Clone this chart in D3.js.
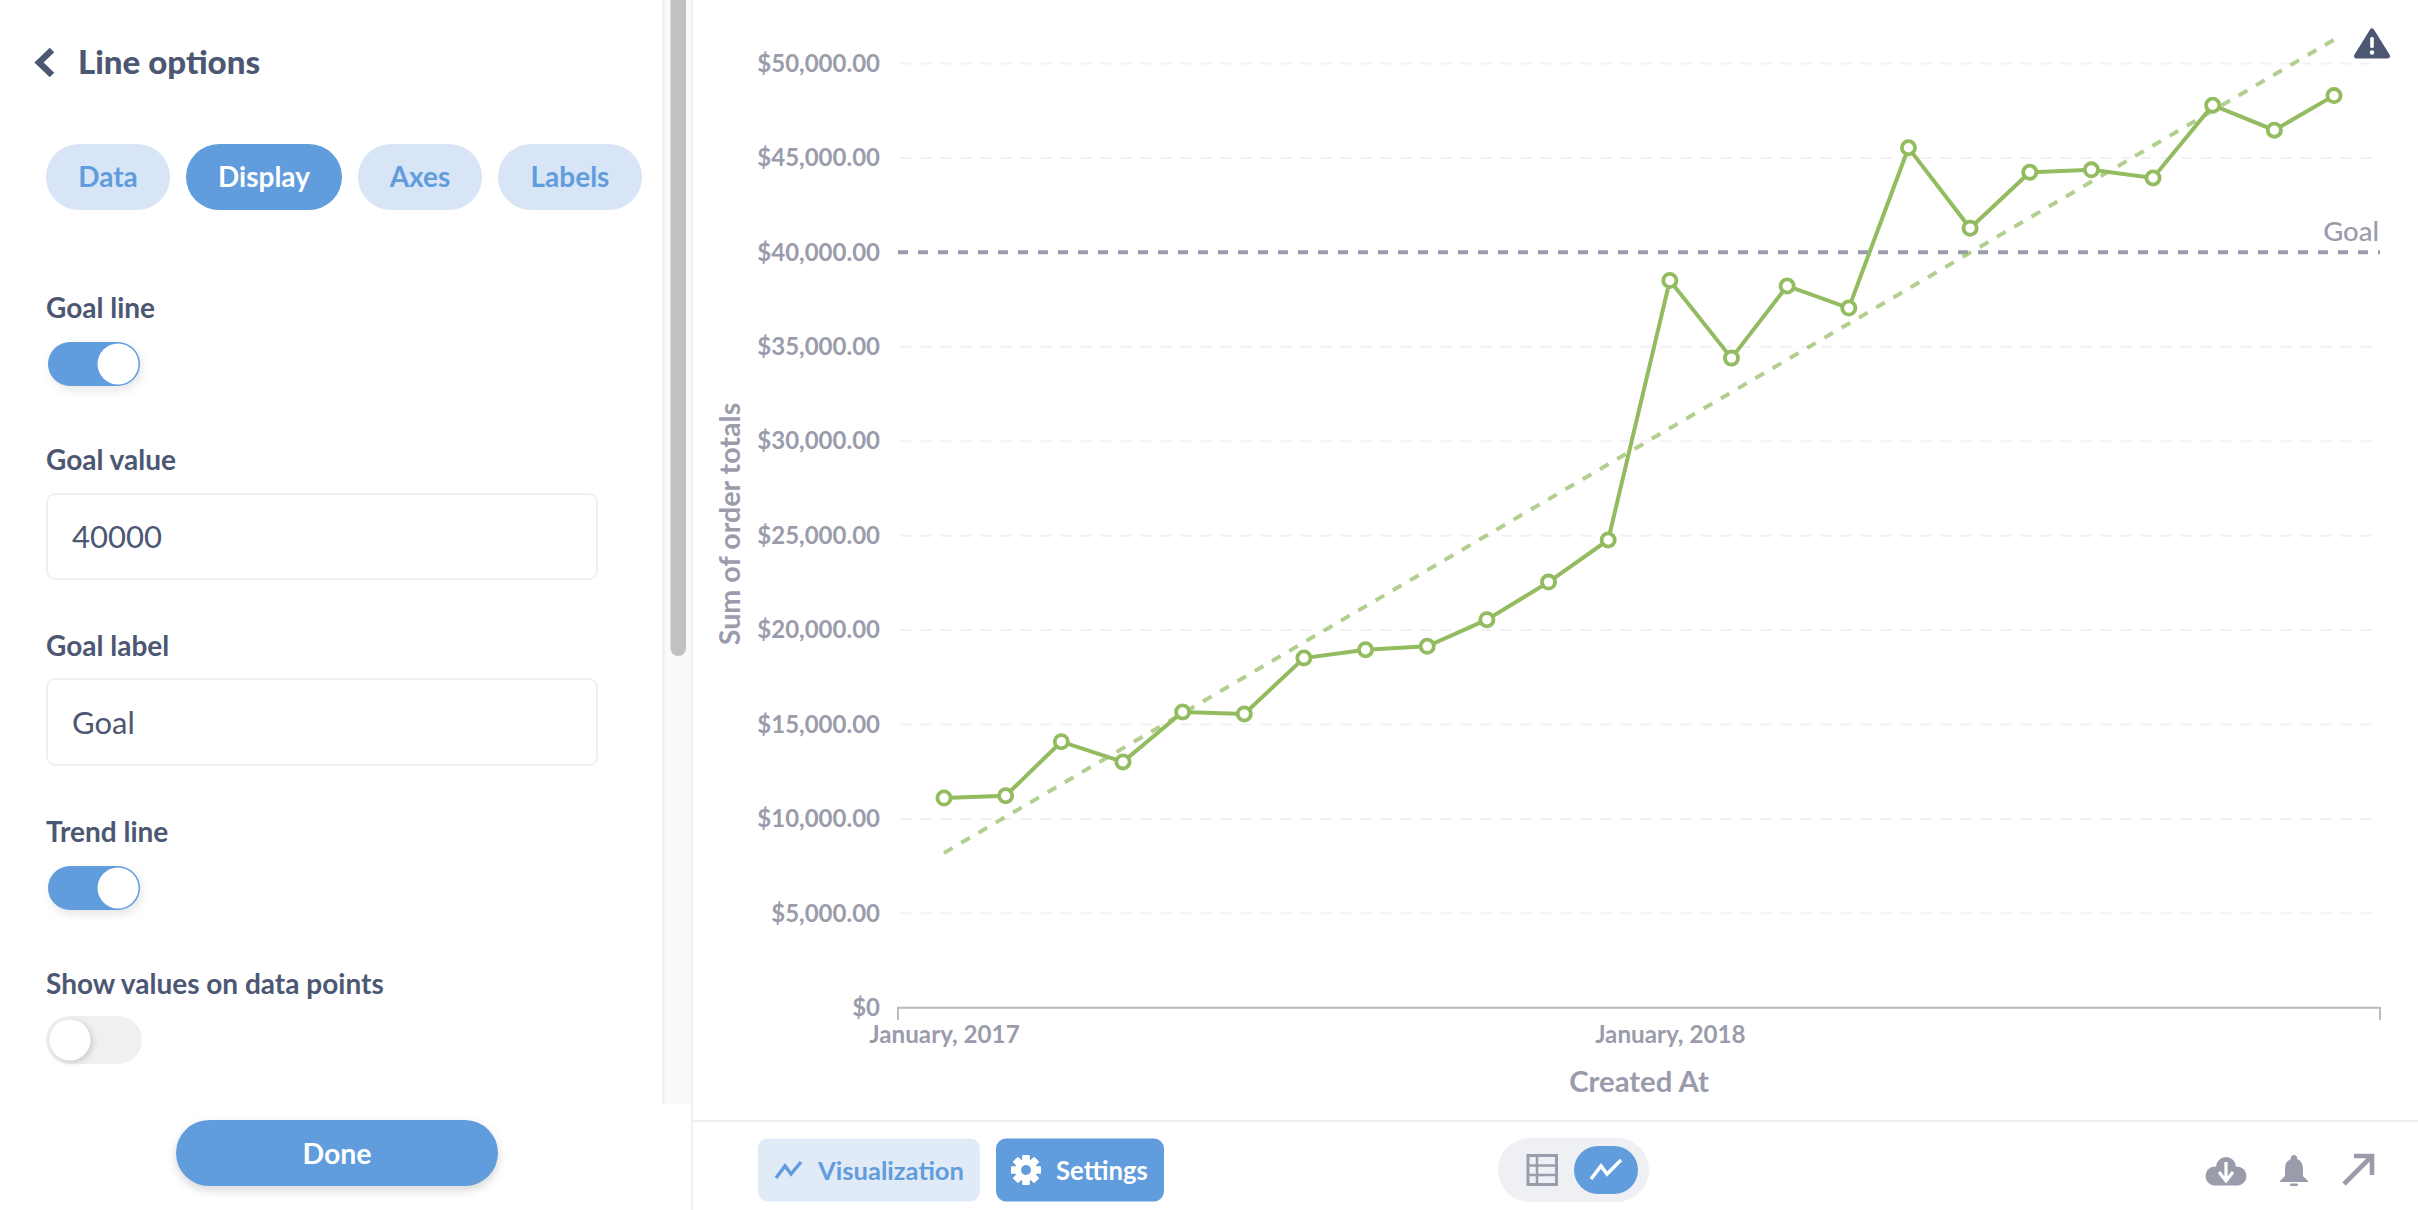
<!DOCTYPE html>
<html><head><meta charset="utf-8">
<script src="https://cdn.jsdelivr.net/npm/d3@7"></script>
<style>
html,body{margin:0;padding:0;background:#fff;overflow:hidden}
svg{display:block}
text{font-family:Lato,sans-serif}
</style></head><body>
<svg id="c" width="2418" height="1210"></svg>
<script>
// ---- data ----
const months = ["2017-01-01","2017-02-01","2017-03-01","2017-04-01","2017-05-01","2017-06-01","2017-07-01","2017-08-01","2017-09-01","2017-10-01","2017-11-01","2017-12-01","2018-01-01","2018-02-01","2018-03-01","2018-04-01","2018-05-01","2018-06-01","2018-07-01","2018-08-01","2018-09-01","2018-10-01","2018-11-01","2018-12-01"];
const orderTotals = [11106,11230,14090,13020,15660,15560,18520,18960,19140,20550,22540,24770,38510,34400,38220,37050,45540,41280,44240,44370,43940,47790,46470,48300];
const trendMonths = ["2017-01-01","2018-12-01"];
const trendValues = [8200,51260];
const goalValue = 40000;
const goalLabel = "Goal";
const yTicks = [0,5000,10000,15000,20000,25000,30000,35000,40000,45000,50000];
const xTicks = ["2017-01-01","2018-01-01"];
const xTickLabels = ["January, 2017","January, 2018"];
const yTitle = "Sum of order totals";
const xTitle = "Created At";
const tabNames = ["Data","Display","Axes","Labels"];

// ---- layout & style ----
const INK="#4c5773", MUTED="#9a9cab", BLUE="#619cdc", PALE="#d8e5f6", GREEN="#93bb5f";
const svg=d3.select("#c");
const parse=d3.utcParse("%Y-%m-%d");
const x=d3.scaleUtc().domain([parse(months[0]),parse(months[months.length-1])]).range([944,2334]);
const y=d3.scaleLinear().domain([0,50000]).range([1007.8,63.5]);
const plotL=898, plotR=2380;

function label(sel,t,px,py,size,weight,fill,anchor){
  return sel.append("text").text(t).attr("x",px).attr("y",py)
    .attr("font-size",size).attr("font-weight",weight).attr("fill",fill)
    .attr("text-anchor",anchor||"start");
}

// ---- sidebar ----
const side=svg.append("g");
side.append("rect").attr("x",663).attr("y",0).attr("width",28).attr("height",1104).attr("fill","#fafafa");
side.append("line").attr("x1",663.5).attr("x2",663.5).attr("y1",0).attr("y2",1104).attr("stroke","#ececec").attr("stroke-width",2);
side.append("rect").attr("x",670.5).attr("y",-10).attr("width",15.5).attr("height",666).attr("rx",7.5).attr("fill","#c1c1c1");
side.append("path").attr("d","M52,50L39,62.5L52,75").attr("fill","none").attr("stroke",INK).attr("stroke-width",6.5);
label(side,"Line options",78,74,33.1,900,INK);

const tabBoxes=[[46,124],[186,156],[358,124],[498,144]];
tabNames.forEach((t,i)=>{
  const [tx,tw]=tabBoxes[i], on=t==="Display";
  side.append("rect").attr("x",tx).attr("y",144).attr("width",tw).attr("height",66).attr("rx",33)
    .attr("fill",on?BLUE:PALE);
  label(side,t,tx+tw/2,187,28,700,on?"#fff":BLUE,"middle");
});

function toggle(cy,on){
  const g=side.append("g");
  if(on){
    g.append("rect").attr("x",48).attr("y",cy-22).attr("width",92).attr("height",44).attr("rx",22).attr("fill",BLUE)
      .style("filter","drop-shadow(2px 4px 5px rgba(0,0,0,.10))");
    g.append("circle").attr("cx",118).attr("cy",cy).attr("r",20.5).attr("fill","#fff");
  }else{
    g.append("rect").attr("x",46).attr("y",cy-24).attr("width",96).attr("height",48).attr("rx",24).attr("fill","#eef0f2");
    g.append("circle").attr("cx",70).attr("cy",cy).attr("r",20.5).attr("fill","#fff")
      .style("filter","drop-shadow(2px 2px 3px rgba(0,0,0,.16))");
  }
}
function input(y0,y1,t,base){
  side.append("rect").attr("x",47).attr("y",y0).attr("width",550).attr("height",y1-y0).attr("rx",8)
    .attr("fill","#fff").attr("stroke","#f0f0f0").attr("stroke-width",2);
  label(side,t,72,base,31,400,INK);
}
label(side,"Goal line",46,318,28,700,INK);   toggle(364,true);
label(side,"Goal value",46,470,28,700,INK);  input(494,579,"40000",548);
label(side,"Goal label",46,656,28,700,INK);  input(679,765,goalLabel,733.5);
label(side,"Trend line",46,842,28,700,INK);  toggle(888,true);
label(side,"Show values on data points",46,994,28,700,INK); toggle(1040,false);

side.append("rect").attr("x",176).attr("y",1120).attr("width",322).attr("height",66).attr("rx",33)
  .attr("fill",BLUE).style("filter","drop-shadow(0 4px 5px rgba(0,0,0,.16))");
label(side,"Done",337,1164,28.5,700,"#fff","middle");

// ---- panel frame ----
svg.append("rect").attr("x",691).attr("y",0).attr("width",2).attr("height",1210).attr("fill","#f0f0f0");
svg.append("rect").attr("x",693).attr("y",1120).attr("width",1725).attr("height",2).attr("fill","#eeeeee");

// ---- chart ----
const chart=svg.append("g");
chart.append("g").selectAll("line").data(yTicks.filter(v=>v!==0&&v!==goalValue)).join("line")
  .attr("x1",901).attr("x2",2372).attr("y1",d=>y(d)).attr("y2",d=>y(d))
  .attr("stroke","#f1f1f3").attr("stroke-width",2).attr("stroke-dasharray","10 10");

const yAxis=d3.axisLeft(y).tickValues(yTicks).tickSize(0).tickPadding(0)
  .tickFormat(v=>v===0?"$0":d3.format("$,.2f")(v));
const ya=chart.append("g").attr("transform","translate(880,0)").call(yAxis);
ya.select(".domain").remove();
ya.selectAll("text").attr("font-family","Lato,sans-serif").attr("font-size",24).attr("font-weight",700).attr("fill",MUTED);

const xAxis=d3.axisBottom(x).tickValues(xTicks.map(parse)).tickSize(0).tickPadding(0)
  .tickFormat((d,i)=>xTickLabels[i]);
const xa=chart.append("g").attr("transform","translate(0,1026)").call(xAxis);
xa.select(".domain").remove();
xa.selectAll("text").attr("font-family","Lato,sans-serif").attr("font-size",24.2).attr("font-weight",700).attr("fill",MUTED);

chart.append("path").attr("d",`M${plotL},1020V${y(0)}H${plotR}V1020`).attr("fill","none").attr("stroke","#b9bbc2").attr("stroke-width",2);

label(chart,yTitle,0,0,28.7,700,MUTED,"middle").attr("transform","translate(740,524) rotate(-90)");
label(chart,xTitle,1639,1092,29.3,700,MUTED,"middle");

// goal
chart.append("line").attr("x1",plotL).attr("x2",plotR).attr("y1",y(goalValue)).attr("y2",y(goalValue))
  .attr("stroke",MUTED).attr("stroke-width",4).attr("stroke-dasharray","10 10");
label(chart,goalLabel,plotR-1,241,27.5,500,MUTED,"end");

// trend
const line=d3.line().x(d=>x(d.date)).y(d=>y(d.value));
chart.append("path").datum(trendMonths.map((m,i)=>({date:parse(m),value:trendValues[i]})))
  .attr("d",line).attr("fill","none").attr("stroke",GREEN).attr("stroke-opacity",.7)
  .attr("stroke-width",4).attr("stroke-dasharray","10 10");

// series
const series=months.map((m,i)=>({date:parse(m),value:orderTotals[i]}));
chart.append("path").datum(series).attr("d",line).attr("fill","none").attr("stroke",GREEN).attr("stroke-width",4);
chart.append("g").selectAll("circle").data(series).join("circle")
  .attr("cx",d=>x(d.date)).attr("cy",d=>y(d.value)).attr("r",6.6)
  .attr("fill","#fff").attr("stroke",GREEN).attr("stroke-width",3.8);

// warning icon
const warn=svg.append("g");
warn.append("path").attr("d","M2372,31L2387.5,56H2356.5Z").attr("fill",INK).attr("stroke",INK).attr("stroke-width",5).attr("stroke-linejoin","round");
warn.append("rect").attr("x",2370.2).attr("y",37).attr("width",3.6).attr("height",11).attr("rx",1.5).attr("fill","#fff");
warn.append("circle").attr("cx",2372).attr("cy",52.5).attr("r",2.2).attr("fill","#fff");

// ---- bottom bar ----
const bar=svg.append("g");
bar.append("rect").attr("x",758).attr("y",1138.5).attr("width",222).attr("height",63).attr("rx",10).attr("fill","#e1eaf7");
bar.append("path").attr("d","M776,1178L785,1166L791,1174L801,1162").attr("fill","none").attr("stroke",BLUE).attr("stroke-width",3.5);
label(bar,"Visualization",818,1180,25.6,700,BLUE);
bar.append("rect").attr("x",996).attr("y",1138.5).attr("width",168).attr("height",63).attr("rx",10).attr("fill",BLUE);
const gear=bar.append("g").attr("transform","translate(1026,1170)");
d3.range(8).forEach(i=>gear.append("rect").attr("x",-3.6).attr("y",-15).attr("width",7.2).attr("height",30).attr("rx",1.2).attr("fill","#fff").attr("transform",`rotate(${i*45})`));
gear.append("circle").attr("r",11).attr("fill","#fff");
gear.append("circle").attr("r",5).attr("fill",BLUE);
label(bar,"Settings",1056,1180,25.7,700,"#fff");

bar.append("rect").attr("x",1498).attr("y",1138).attr("width",151).attr("height",64).attr("rx",32).attr("fill","#eef0f3");
bar.append("rect").attr("x",1574).attr("y",1146).attr("width",64).attr("height",48).attr("rx",24).attr("fill",BLUE);
bar.append("path").attr("d","M1591,1179L1601,1166L1607,1174L1621,1160").attr("fill","none").attr("stroke","#fff").attr("stroke-width",3.5);
const tb=bar.append("g");
tb.append("rect").attr("x",1528).attr("y",1155.5).attr("width",28.5).attr("height",29).attr("fill","none").attr("stroke",MUTED).attr("stroke-width",3);
tb.append("path").attr("d","M1528,1165.5H1556M1528,1175H1556M1537,1155V1185").attr("stroke",MUTED).attr("stroke-width",2.5);

// download cloud
const ic=bar.append("g").attr("fill",MUTED);
ic.append("circle").attr("cx",2226).attr("cy",1167).attr("r",10);
ic.append("circle").attr("cx",2215).attr("cy",1176).attr("r",9.5);
ic.append("circle").attr("cx",2237).attr("cy",1176).attr("r",9.5);
ic.append("rect").attr("x",2215).attr("y",1170).attr("width",22).attr("height",15.5);
bar.append("path").attr("d","M2226,1162V1180M2219,1172L2226,1181L2233,1172").attr("fill","none").attr("stroke","#fff").attr("stroke-width",3.2);
// bell
ic.append("path").attr("d","M2294,1155a3,3 0 0 1 3,4c5,2 6,6 6,11v6l5,5v1h-28v-1l5,-5v-6c0,-5 1,-9 6,-11a3,3 0 0 1 3,-4Z");
ic.append("rect").attr("x",2290).attr("y",1183.5).attr("width",8).attr("height",2.5).attr("rx",1.2);
// expand arrow
bar.append("path").attr("d","M2344,1184L2371,1157M2354,1156H2372V1175").attr("fill","none").attr("stroke",MUTED).attr("stroke-width",4.6);
</script>
</body></html>
